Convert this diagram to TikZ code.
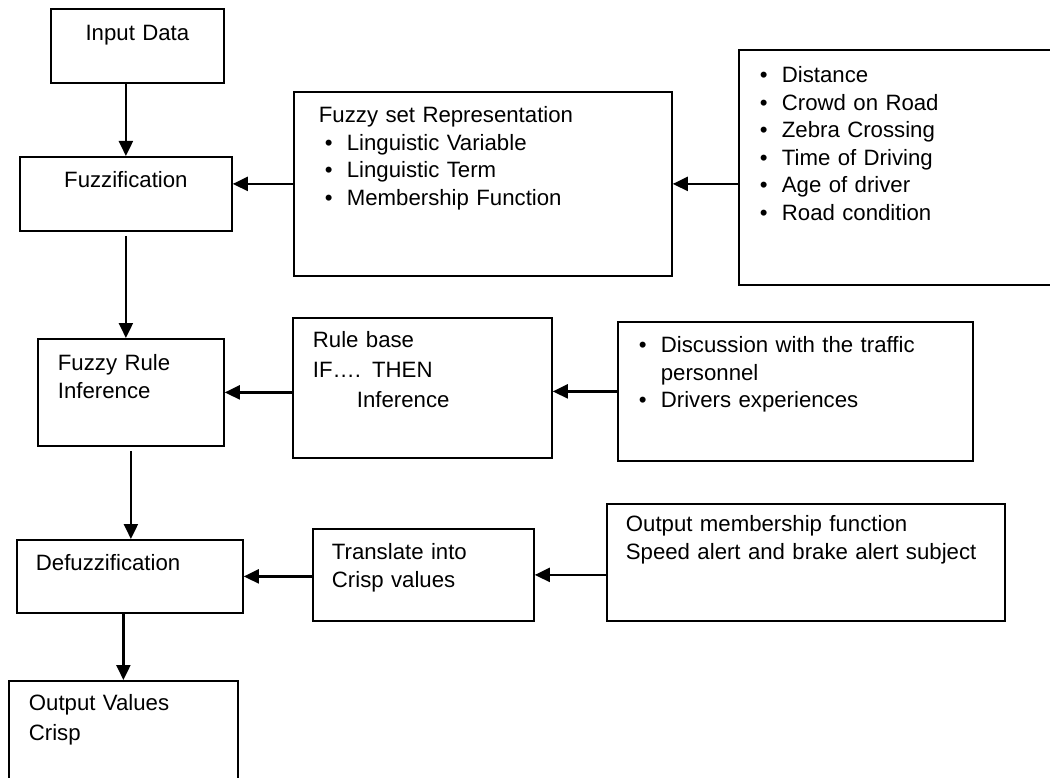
\documentclass[tikz,border=0pt]{standalone}
\usepackage{fontspec}
\setmainfont{Liberation Sans}
\usetikzlibrary{arrows.meta}

\newcommand{\itm}{\makebox[22pt][l]{\textbullet}}

\begin{document}
\begin{tikzpicture}[
    x=1pt, y=-1pt,
    box/.style={draw, line width=1.8pt, anchor=north west, inner ysep=0pt,
        align=left, font=\fontsize{22.2pt}{27.5pt}\selectfont},
    flow/.style={line width=2.3pt, -{Triangle[length=15pt, width=14pt]}}
]
    \useasboundingbox (0,0) rectangle (1050,778);
    \clip (0,0) rectangle (1050,778);

    % main column
    \node[box, align=center, inner xsep=10pt, text width=153pt, text height=32pt, text depth=42pt]
        (inp) at (50,8) {Input Data};
    \node[box, align=center, inner xsep=10pt, text width=192pt, text height=31pt, text depth=43pt]
        (fuz) at (19,156) {Fuzzification};
    \node[box, inner xsep=20pt, text width=146pt, text height=32pt, text depth=75pt]
        (rule) at (37,338) {Fuzzy Rule\\Inference};
    \node[box, inner xsep=19pt, text width=188pt, text height=31pt, text depth=42pt]
        (def) at (16,539) {Defuzzification};
    \node[box, inner xsep=20pt, text width=189pt, text height=30pt, text depth=100pt]
        (out) at (8,680) {Output Values\\[2.5pt]Crisp};

    % middle column
    \node[box, inner xsep=25pt, text width=328pt, text height=31pt, text depth=153pt]
        (fset) at (293,91) {Fuzzy set Representation\\
        \hspace*{6pt}\itm Linguistic Variable\\
        \hspace*{6pt}\itm Linguistic Term\\
        \hspace*{6pt}\itm Membership Function};
    \node[box, inner xsep=20pt, text width=219pt, text height=30pt, text depth=110pt]
        (rb) at (292,317) {Rule base\\[2.5pt]IF…. THEN\\[2.5pt]\hspace*{44pt}Inference};
    \node[box, inner xsep=19pt, text width=183pt, text height=31pt, text depth=61pt]
        (tr) at (312,528) {Translate into\\Crisp values};

    % right column
    \node[box, inner xsep=21pt, text width=298pt, text height=33pt, text depth=202pt]
        (dist) at (738,49) {\itm Distance\\ \itm Crowd on Road\\ \itm Zebra Crossing\\
        \itm Time of Driving\\ \itm Age of driver\\ \itm Road condition};
    \node[box, inner xsep=21pt, text width=313pt, text height=31pt, text depth=108pt]
        (disc) at (617,321) {\itm Discussion with the traffic\\ \hspace*{22pt}personnel\\
        \itm Drivers experiences};
    \node[box, inner xsep=19pt, text width=360pt, text height=28pt, text depth=89pt]
        (om) at (606,503) {Output membership function\\Speed alert and brake alert subject};

    \draw[flow] (inp.south -| fuz.north) -- (fuz.north);
    \draw[flow] ([yshift=-4pt]fuz.south) -- (fuz.south |- rule.north);
    \draw[flow] ([yshift=-4pt]rule.south) -- (rule.south |- def.north);
    \draw[flow] (def.south -| out.north) -- (out.north);

    \draw[flow] (dist.west |- fset.east) -- (fset.east);
    \draw[flow] (fset.west) -- (fset.west -| fuz.east);
    \draw[flow] (disc.west) -- (disc.west -| rb.east);
    \draw[flow] (rb.west |- rule.east) -- (rule.east);
    \draw[flow] (om.west |- tr.east) -- (tr.east);
    \draw[flow] (tr.west |- def.east) -- (def.east);
\end{tikzpicture}
\end{document}
